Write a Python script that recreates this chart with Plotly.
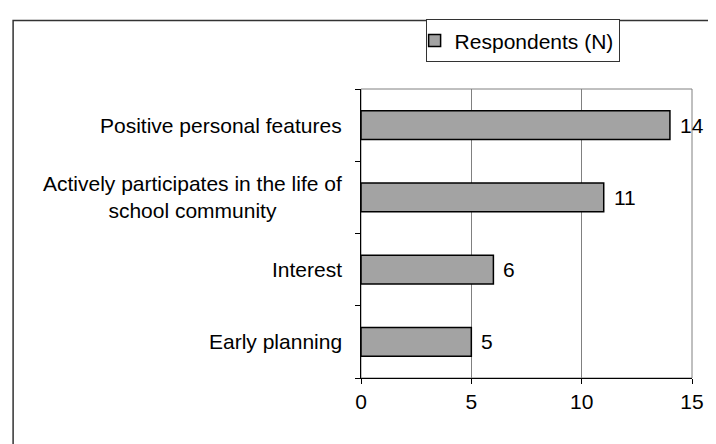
import plotly.graph_objects as go

categories = ["Early planning", "Interest",
              "Actively participates in the life of<br>school community",
              "Positive personal features"]
respondents = [5, 6, 11, 14]
series_name = "Respondents (N)"
x_ticks = [0, 5, 10, 15]

# page has an 8px body margin, so the figure is offset by 8px
OFF = 8
W, H = 716 - OFF, 444 - OFF
L, R, T, B = 361 - OFF, 22, 83 - OFF, 66
pw, ph = W - L - R, H - T - B
FONT = "Liberation Sans, Arial, sans-serif"
FS = 21

def px2x(px):
    return (px - OFF - L) / pw

def px2y(py):
    return (H - B - (py - OFF)) / ph

fig = go.Figure()
fig.add_trace(go.Bar(
    y=categories, x=respondents, orientation="h", name=series_name,
    marker=dict(color="#a3a3a3", line=dict(color="black", width=1.5)),
    width=0.4, cliponaxis=False, showlegend=True, hoverinfo="x+y",
))

annotations = []
for c in categories:
    annotations.append(dict(
        x=0, xref="paper", y=c, yref="y", text=c, showarrow=False,
        xanchor="right", yanchor="middle", xshift=-17, align="center",
        font=dict(size=FS, color="black", family=FONT),
    ))
for c, v in zip(categories, respondents):
    annotations.append(dict(
        x=v, xref="x", y=c, yref="y", text=str(v), showarrow=False,
        xanchor="left", yanchor="middle", xshift=8,
        font=dict(size=FS, color="black", family=FONT),
    ))

shapes = [
    # plot area border (gray)
    dict(type="rect", xref="paper", yref="paper", x0=0, x1=1, y0=0, y1=1,
         line=dict(color="#808080", width=1), layer="below"),
    # outer frame
    dict(type="rect", xref="paper", yref="paper", x0=px2x(11), x1=px2x(760),
         y0=px2y(480), y1=px2y(13), line=dict(color="#333333", width=1.5)),
]

fig.update_layout(
    width=W, height=H, margin=dict(l=L, r=R, t=T, b=B),
    paper_bgcolor="white", plot_bgcolor="white",
    font=dict(family=FONT, size=FS, color="black"),
    bargap=0.6,
    xaxis=dict(range=[0, 15], tickvals=x_ticks, showgrid=True, gridcolor="#808080",
               gridwidth=1, zeroline=False, showline=True, linecolor="black",
               linewidth=1, ticks="outside", ticklen=5, tickcolor="black",
               tickfont=dict(size=FS), layer="below traces"),
    yaxis=dict(type="category", categoryorder="array", categoryarray=categories,
               range=[-0.5, 3.5], showticklabels=False, showline=True,
               linecolor="black", linewidth=1, ticks="outside", ticklen=5,
               tickcolor="black", tickson="boundaries", showgrid=False, zeroline=False),
    legend=dict(x=px2x(426), y=px2y(12), xanchor="left", yanchor="top",
                indentation=-12,
                bordercolor="#333333", borderwidth=1, bgcolor="white",
                font=dict(size=FS, family=FONT)),
    annotations=annotations, shapes=shapes,
)

fig.write_html("out.html")
